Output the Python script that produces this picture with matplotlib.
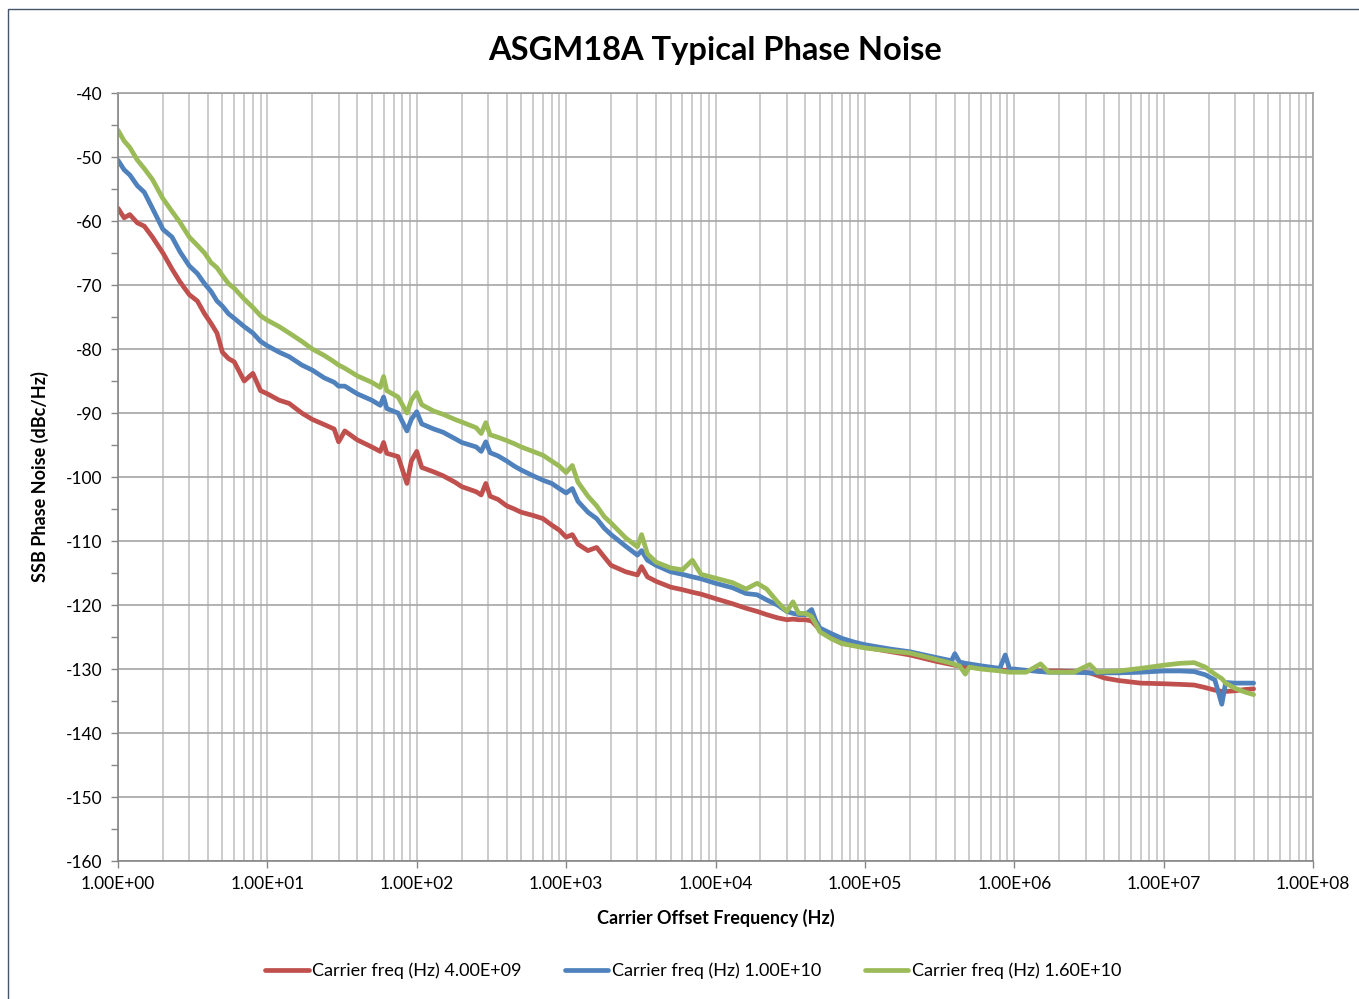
"""Typical SSB phase noise of the ASGM18A at three carrier frequencies."""

from matplotlib import pyplot as plt
from matplotlib.patches import Rectangle
from matplotlib.ticker import FixedLocator, LogLocator, NullFormatter, MultipleLocator
import numpy as np

# carrier offset frequency (Hz), shared by the three traces
offset_hz = [
    1, 1.1, 1.2, 1.35, 1.5, 1.7, 2, 2.3, 2.6, 3, 3.4, 3.8, 4.2, 4.6, 5, 5.5, 6, 7, 8, 9,
    10, 12, 14, 17, 20, 24, 28, 30, 33, 40, 50, 57, 60, 63, 75, 86, 92, 100, 108, 130,
    150, 180, 200, 250, 270, 290, 310, 350, 400, 450, 500, 600, 700, 800, 900, 1000, 1100, 1200, 1400, 1600,
    1800, 2000, 2500, 3000, 3200, 3500, 4000, 5000, 6000, 7000, 8000, 1e4, 1.3e4, 1.6e4, 1.9e4, 2.2e4, 2.6e4, 3e4, 3.3e4, 3.6e4,
    4e4, 4.4e4, 4.7e4, 5e4, 6e4, 7e4, 8.5e4, 1e5, 1.5e5, 2e5, 3e5, 3.8e5, 4e5, 4.3e5, 4.7e5, 5e5, 6e5, 8e5, 8.7e5, 9.3e5,
    1e6, 1.2e6, 1.5e6, 1.7e6, 2e6, 2.5e6, 3.2e6, 3.6e6, 4e6, 5e6, 7e6, 1e7, 1.3e7, 1.6e7, 1.9e7, 2.2e7, 2.45e7, 2.6e7, 3e7, 3.5e7,
    4e7,
]

# SSB phase noise (dBc/Hz)
noise_4ghz = [
    -58, -59.5, -59, -60.3, -60.8, -62.5, -65, -67.5, -69.5, -71.5, -72.5, -74.5, -76, -77.5, -80.5, -81.5, -82, -85, -83.8, -86.5,
    -87, -88, -88.5, -90, -91, -91.8, -92.5, -94.5, -92.8, -94.2, -95.3, -96, -94.6, -96.3, -96.8, -101, -97.5, -96, -98.5, -99.2,
    -99.8, -100.8, -101.5, -102.3, -102.8, -101, -103, -103.5, -104.5, -105, -105.5, -106, -106.5, -107.5, -108.3, -109.4, -109, -110.5, -111.5, -111,
    -112.5, -113.8, -114.8, -115.3, -114, -115.6, -116.3, -117.2, -117.6, -118, -118.3, -119, -119.8, -120.5, -121, -121.5, -122, -122.3, -122.2, -122.3,
    -122.3, -122.5, -123.2, -123.9, -125.2, -126, -126.3, -126.6, -127.3, -127.8, -128.8, -129.3, -129.4, -129.5, -129.6, -129.7, -129.9, -130.1, -130.2, -130.2,
    -130.2, -130.2, -130.3, -130.3, -130.3, -130.4, -130.6, -131, -131.4, -131.8, -132.2, -132.3, -132.4, -132.5, -132.9, -133.3, -133.5, -133.5, -133.4, -133.2,
    -133.1,
]
noise_10ghz = [
    -50.5, -52, -52.8, -54.5, -55.5, -58, -61.3, -62.5, -64.8, -67, -68.2, -69.8, -71, -72.5, -73.3, -74.5, -75.2, -76.5, -77.5, -78.8,
    -79.5, -80.5, -81.2, -82.5, -83.3, -84.5, -85.2, -85.8, -85.8, -87, -88, -88.8, -87.5, -89.3, -90, -92.8, -91, -89.8, -91.7, -92.5,
    -93, -94, -94.6, -95.3, -96, -94.5, -96.2, -96.7, -97.5, -98.3, -98.9, -99.8, -100.5, -101, -101.8, -102.5, -101.8, -103.8, -105.5, -106.5,
    -108, -109, -110.8, -112.2, -111.5, -113, -113.8, -114.8, -115.2, -115.6, -115.9, -116.6, -117.3, -118.2, -118.4, -119.2, -120, -121, -121.3, -121.5,
    -121.5, -120.7, -122.5, -123.6, -124.5, -125.2, -125.8, -126.2, -126.9, -127.3, -128.2, -128.7, -127.6, -128.9, -129.1, -129.2, -129.5, -129.9, -127.8, -130,
    -130, -130.2, -130.4, -130.5, -130.5, -130.5, -130.6, -130.6, -130.6, -130.6, -130.5, -130.3, -130.3, -130.4, -130.9, -131.7, -135.5, -132.1, -132.2, -132.2,
    -132.2,
]
noise_16ghz = [
    -45.8, -47.5, -48.5, -50.5, -51.8, -53.5, -56.5, -58.5, -60.2, -62.5, -63.8, -65, -66.5, -67.3, -68.5, -69.8, -70.5, -72.2, -73.5, -74.8,
    -75.5, -76.5, -77.5, -78.8, -80, -81, -82, -82.5, -83, -84.2, -85.2, -86, -84.3, -86.5, -87.5, -90, -88, -86.8, -88.7, -89.7,
    -90.2, -91, -91.4, -92.3, -93.2, -91.5, -93.4, -93.8, -94.3, -94.8, -95.3, -96, -96.6, -97.5, -98.3, -99.3, -98.2, -100.8, -103, -104.5,
    -106.2, -107.2, -109.5, -110.9, -109, -112, -113.3, -114.2, -114.5, -113, -115.2, -115.8, -116.5, -117.5, -116.6, -117.5, -119.5, -121, -119.5, -121.3,
    -121.3, -121.8, -123, -124.2, -125.3, -126, -126.4, -126.7, -127.2, -127.5, -128.5, -129.1, -129.3, -129.5, -130.8, -129.7, -130, -130.3, -130.4, -130.5,
    -130.5, -130.5, -129.2, -130.5, -130.5, -130.5, -129.3, -130.5, -130.4, -130.3, -129.9, -129.4, -129.1, -129, -129.7, -130.8, -131.5, -132.2, -133, -133.6,
    -134,
]

series = [
    ("Carrier freq (Hz) 4.00E+09", noise_4ghz, "#C0504D"),
    ("Carrier freq (Hz) 1.00E+10", noise_10ghz, "#4F81BD"),
    ("Carrier freq (Hz) 1.60E+10", noise_16ghz, "#9BBB59"),
]

x_ticks = [1e0, 1e1, 1e2, 1e3, 1e4, 1e5, 1e6, 1e7, 1e8]
x_tick_labels = ["1.00E+00", "1.00E+01", "1.00E+02", "1.00E+03", "1.00E+04",
                 "1.00E+05", "1.00E+06", "1.00E+07", "1.00E+08"]

plt.rcParams["font.family"] = ["Lato", "DejaVu Sans"]
plt.rcParams["axes.unicode_minus"] = False

fig = plt.figure(figsize=(13.59, 9.99), dpi=100)
ax = fig.add_axes([0.0868, 0.1381, 0.8794, 0.7688])

for name, values, colour in series:
    ax.plot(offset_hz, values, color=colour, linewidth=3.4, label=name,
            solid_joinstyle="round", solid_capstyle="round")

ax.set_xscale("log")
ax.set_xlim(1, 1e8)
ax.set_ylim(-160, -40)

ax.xaxis.set_major_locator(FixedLocator(x_ticks))
ax.set_xticklabels(x_tick_labels)
ax.xaxis.set_minor_locator(LogLocator(base=10, subs=np.arange(2, 10)))
ax.xaxis.set_minor_formatter(NullFormatter())
ax.yaxis.set_major_locator(MultipleLocator(10))
ax.yaxis.set_minor_locator(MultipleLocator(5))

ax.grid(which="major", axis="y", color="#A6A6A6", linewidth=1.2)
ax.grid(which="both", axis="x", color="#C4C4C4", linewidth=1.2)
ax.set_axisbelow(True)

ax.tick_params(axis="both", which="major", labelsize=12.5, direction="out",
               length=5, width=1, color="#868686", pad=6)
ax.tick_params(axis="y", which="minor", direction="out", length=5, width=1, color="#868686")
ax.tick_params(axis="x", which="minor", length=0)

for side in ["left", "bottom", "top", "right"]:
    ax.spines[side].set_color("#A0A0A0")
    ax.spines[side].set_linewidth(1.2)
ax.spines["left"].set_color("#868686")
ax.spines["bottom"].set_color("#868686")

ax.set_title("ASGM18A Typical Phase Noise", fontsize=23.5, fontweight="bold", pad=24)
ax.set_xlabel("Carrier Offset Frequency (Hz)", fontsize=13, fontweight="bold", labelpad=12)
ax.set_ylabel("SSB Phase Noise (dBc/Hz)", fontsize=13, fontweight="bold", labelpad=12)

fig.legend(loc="center", bbox_to_anchor=(0.51, 0.028), ncol=3, frameon=False,
           fontsize=13, handlelength=2.4, handletextpad=0.2, columnspacing=2.4)

# thin chart-area border like the spreadsheet export
fig.add_artist(Rectangle((8 / 1359, -0.05), 1.1, 0.05 + 1 - 9 / 999,
                         transform=fig.transFigure, fill=False,
                         edgecolor="#44546A", linewidth=1.0))

fig.savefig("out.png", dpi=100)
